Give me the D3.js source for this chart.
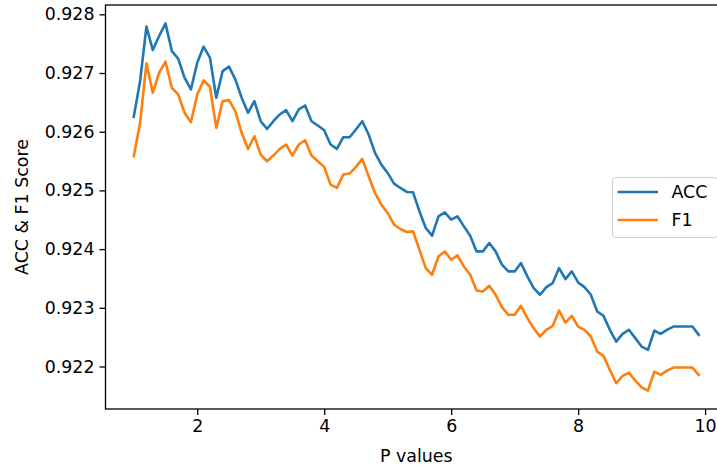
<!DOCTYPE html>
<html>
<head>
<meta charset="utf-8">
<script src="https://cdn.jsdelivr.net/npm/d3@7"></script>
<style>
  html, body { margin: 0; padding: 0; background: #fff; overflow: hidden; }
  svg { display: block; font-family: "DejaVu Sans", sans-serif; }
</style>
</head>
<body>
<svg id="chart" width="717" height="468"></svg>
<script>
// P values 1.0 .. 9.9 step 0.1
const pValues = [1.0,1.1,1.2,1.3,1.4,1.5,1.6,1.7,1.8,1.9,2.0,2.1,2.2,2.3,2.4,2.5,2.6,2.7,2.8,2.9,
  3.0,3.1,3.2,3.3,3.4,3.5,3.6,3.7,3.8,3.9,4.0,4.1,4.2,4.3,4.4,4.5,4.6,4.7,4.8,4.9,
  5.0,5.1,5.2,5.3,5.4,5.5,5.6,5.7,5.8,5.9,6.0,6.1,6.2,6.3,6.4,6.5,6.6,6.7,6.8,6.9,
  7.0,7.1,7.2,7.3,7.4,7.5,7.6,7.7,7.8,7.9,8.0,8.1,8.2,8.3,8.4,8.5,8.6,8.7,8.8,8.9,
  9.0,9.1,9.2,9.3,9.4,9.5,9.6,9.7,9.8,9.9];

const accValues = [0.926254,0.926862,0.92779,0.927391,0.92763,0.927846,0.927374,0.927244,0.92692,0.92672,
  0.927176,0.927449,0.927261,0.926579,0.927032,0.927108,0.926891,0.926579,0.926323,0.926521,
  0.926179,0.926049,0.926179,0.926294,0.926367,0.926179,0.926379,0.926447,0.926179,0.926106,
  0.926026,0.925782,0.925708,0.925906,0.925906,0.926038,0.926179,0.925952,0.925639,0.92544,
  0.925298,0.925116,0.925042,0.924974,0.924968,0.924644,0.924359,0.924229,0.924559,0.924627,
  0.924502,0.924559,0.924388,0.924229,0.923961,0.923961,0.924104,0.923961,0.923734,0.92362,
  0.92362,0.923762,0.923535,0.923336,0.923222,0.923352,0.923421,0.923677,0.923489,0.92362,
  0.923432,0.923352,0.923222,0.922937,0.922863,0.922625,0.922425,0.922556,0.922625,0.922483,
  0.92234,0.922283,0.922613,0.922556,0.922625,0.922681,0.922681,0.922681,0.922681,0.922539];

const f1Values = [0.925582,0.926152,0.927164,0.926664,0.927005,0.927193,0.926749,0.926635,0.926323,0.926162,
  0.926635,0.926874,0.926766,0.926066,0.926521,0.926538,0.92635,0.925981,0.925705,0.925923,
  0.925611,0.925497,0.925594,0.925708,0.925782,0.925594,0.925782,0.925855,0.925594,0.925497,
  0.925401,0.925099,0.925043,0.92527,0.925287,0.925401,0.925537,0.925241,0.924957,0.924758,
  0.924616,0.924416,0.924343,0.924292,0.924302,0.92399,0.923677,0.923563,0.923875,0.923961,
  0.923819,0.923893,0.923705,0.923563,0.923295,0.923279,0.923375,0.923222,0.923012,0.922881,
  0.922881,0.923034,0.922824,0.922653,0.922511,0.922625,0.922693,0.922954,0.922749,0.922863,
  0.922681,0.922625,0.922511,0.922254,0.922181,0.921942,0.921715,0.92184,0.921896,0.92176,
  0.921646,0.921589,0.921913,0.921857,0.92193,0.921982,0.921982,0.921982,0.921982,0.921857];

const seriesNames = ["ACC", "F1"];
const seriesColors = ["#1f77b4", "#ff7f0e"];
const xTicks = [2, 4, 6, 8, 10];
const yTicks = [0.922, 0.923, 0.924, 0.925, 0.926, 0.927, 0.928];
const xLabel = "P values";
const yLabel = "ACC & F1 Score";

(function () {
const svg = d3.select("#chart");
const mLeft = 105.5, mRight = 727, mTop = 5, mBottom = 409;
const fs = 17.4;

// matplotlib-like 5% margins
const xMin = d3.min(pValues), xMax = d3.max(pValues);
const xPad = (xMax - xMin) * 0.05;
const allY = accValues.concat(f1Values);
const yMin = d3.min(allY), yMax = d3.max(allY);
const yPad = (yMax - yMin) * 0.05;

const x = d3.scaleLinear().domain([xMin - xPad, xMax + xPad]).range([mLeft, mRight]);
const y = d3.scaleLinear().domain([yMin - yPad, yMax + yPad]).range([mBottom, mTop]);

const series = [accValues, f1Values];
const line = d3.line().x((d, i) => x(pValues[i])).y(d => y(d));

const plot = svg.append("g");
series.forEach((vals, k) => {
  plot.append("path")
    .datum(vals)
    .attr("fill", "none")
    .attr("stroke", seriesColors[k])
    .attr("stroke-width", 2.6)
    .attr("stroke-linejoin", "round")
    .attr("stroke-linecap", "square")
    .attr("d", line);
});

const xAxis = d3.axisBottom(x).tickValues(xTicks).tickFormat(d3.format("d")).tickSize(6).tickPadding(5);
const yAxis = d3.axisLeft(y).tickValues(yTicks).tickFormat(d3.format(".3f")).tickSize(6).tickPadding(5);

const gx = svg.append("g").attr("transform", `translate(0,${mBottom})`).call(xAxis);
const gy = svg.append("g").attr("transform", `translate(${mLeft},0)`).call(yAxis);
[gx, gy].forEach(g => {
  g.select(".domain").remove();
  g.selectAll(".tick line").attr("stroke", "#000").attr("stroke-width", 1.3);
  g.selectAll(".tick text").attr("fill", "#000").style("font-size", fs + "px").style("font-family", "DejaVu Sans");
});

svg.append("rect")
  .attr("x", mLeft).attr("y", mTop)
  .attr("width", mRight - mLeft).attr("height", mBottom - mTop)
  .attr("fill", "none").attr("stroke", "#000").attr("stroke-width", 1.3);

svg.append("text")
  .attr("x", (mLeft + mRight) / 2).attr("y", 462)
  .attr("text-anchor", "middle")
  .style("font-size", fs + "px").attr("fill", "#000")
  .text(xLabel);

svg.append("text")
  .attr("transform", `translate(28,${(mTop + mBottom) / 2}) rotate(-90)`)
  .attr("text-anchor", "middle")
  .style("font-size", fs + "px").attr("fill", "#000")
  .text(yLabel);

const lg = svg.append("g");
lg.append("rect")
  .attr("x", 612.5).attr("y", 177.5).attr("width", 105).attr("height", 60)
  .attr("rx", 3).attr("fill", "#fff").attr("fill-opacity", 0.8)
  .attr("stroke", "#cccccc").attr("stroke-width", 1);
seriesNames.forEach((name, k) => {
  const yy = 192 + k * 28;
  lg.append("line")
    .attr("x1", 617.5).attr("x2", 658).attr("y1", yy).attr("y2", yy)
    .attr("stroke", seriesColors[k]).attr("stroke-width", 2.6);
  lg.append("text")
    .attr("x", 671.5).attr("y", yy).attr("dy", "0.36em")
    .style("font-size", fs + "px").attr("fill", "#000")
    .text(name);
});
})();
</script>
</body>
</html>
